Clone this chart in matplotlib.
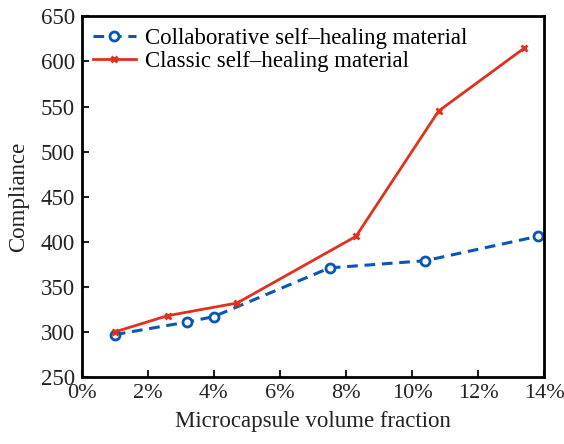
import matplotlib.pyplot as plt
from matplotlib.ticker import FuncFormatter

collab_x = [1.0, 3.2, 4.0, 7.5, 10.4, 13.8]
collab_y = [297, 311, 317, 371, 379, 406]
classic_x = [1.0, 2.6, 4.7, 8.3, 10.8, 13.4]
classic_y = [300, 318, 332, 406, 545, 615]
labels = ["Collaborative self\u2013healing material", "Classic self\u2013healing material"]

plt.rcParams['font.family'] = ['Liberation Serif', 'DejaVu Serif']

fig = plt.figure(figsize=(5.64, 4.44), dpi=100)
ax = fig.add_axes([0.145, 0.151, 0.820, 0.812])

ax.plot(collab_x, collab_y, linestyle=(0, (3.5, 2.2)), color="#0a56b4", linewidth=2.2,
        marker='o', markersize=6.5, markerfacecolor='white', markeredgewidth=2,
        label=labels[0])
ax.plot(classic_x, classic_y, color="#e0301e", linewidth=2, marker='x',
        markersize=5, markeredgewidth=2, label=labels[1])

ax.set_xlim(0, 14)
ax.set_ylim(250, 650)
ax.set_xticks(range(0, 15, 2))
ax.set_yticks(range(250, 651, 50))
ax.xaxis.set_major_formatter(FuncFormatter(lambda v, p: f"{int(v)}%"))
ax.tick_params(direction='in', length=5, width=1.5, labelsize=16.5, colors='#222222')
ax.tick_params(axis='x', pad=5, labelsize=16)
ax.tick_params(axis='y', pad=5)
for s in ax.spines.values():
    s.set_linewidth(2)

ax.set_xlabel("Microcapsule volume fraction", fontsize=16.5, color='#222222', labelpad=6)
ax.set_ylabel("Compliance", fontsize=16.5, color='#222222', labelpad=8)

ax.legend(loc='upper left', frameon=False, fontsize=16.5, handlelength=1.85,
          borderaxespad=0.1, labelspacing=0.1, handletextpad=0.4,
          bbox_to_anchor=(0.0, 1.0))

fig.savefig("out.png", dpi=100)
